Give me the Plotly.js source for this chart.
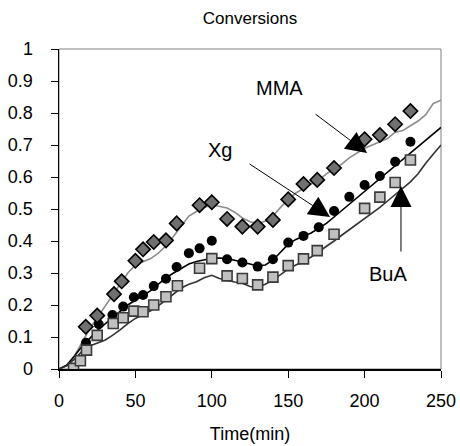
<!DOCTYPE html>
<html>
<head>
<meta charset="utf-8">
<script src="https://cdn.plot.ly/plotly-3.0.1.min.js"></script>
<style>html,body{margin:0;padding:0;background:#fff;}#chart{width:460px;height:446px;}</style>
</head>
<body>
<div id="chart"></div>
<script>
// Experimental points
var tMMA = [17.5, 25, 36, 41, 50, 55, 62, 70, 77, 92, 100, 110, 120, 130, 140, 150, 160, 169, 180, 200, 210, 220, 230];
var mmaExp = [0.132, 0.167, 0.234, 0.274, 0.338, 0.374, 0.397, 0.402, 0.455, 0.512, 0.521, 0.469, 0.445, 0.445, 0.466, 0.530, 0.578, 0.591, 0.628, 0.718, 0.731, 0.765, 0.806];

var tXg = [17.7, 26, 35, 42, 49, 55, 62, 70, 77, 85, 92, 100, 110, 120, 130, 140, 150, 160, 170, 180, 190, 200, 210, 220, 230];
var xgExp = [0.082, 0.140, 0.169, 0.195, 0.224, 0.231, 0.259, 0.282, 0.319, 0.362, 0.377, 0.401, 0.343, 0.333, 0.320, 0.343, 0.395, 0.416, 0.443, 0.494, 0.538, 0.575, 0.603, 0.648, 0.710];

var tBuA = [9.5, 14, 18, 25, 35.5, 42, 49, 55, 62, 70, 77.5, 92, 100, 110, 120, 130, 140, 150, 160, 169, 180, 200, 210, 220, 230];
var buaExp = [0.002, 0.026, 0.059, 0.105, 0.142, 0.160, 0.181, 0.179, 0.200, 0.226, 0.260, 0.315, 0.345, 0.291, 0.283, 0.263, 0.287, 0.323, 0.344, 0.370, 0.421, 0.502, 0.537, 0.583, 0.653];

// Model curves
var tModel = [0, 5, 10, 15, 20, 25, 30, 35, 40, 45, 50, 55, 60, 65, 70, 75, 80, 85, 90, 95, 100, 105, 110, 115, 120, 125, 130, 135, 140, 145, 150, 155, 160, 165, 170, 175, 180, 185, 190, 195, 200, 205, 210, 215, 220, 225, 230, 235, 240, 245, 250];
var mmaModel = [0, 0.010, 0.040, 0.085, 0.125, 0.160, 0.195, 0.230, 0.265, 0.300, 0.325, 0.335, 0.345, 0.362, 0.385, 0.415, 0.448, 0.478, 0.492, 0.505, 0.513, 0.508, 0.503, 0.490, 0.472, 0.460, 0.455, 0.462, 0.478, 0.505, 0.530, 0.550, 0.565, 0.578, 0.590, 0.610, 0.625, 0.640, 0.660, 0.675, 0.690, 0.700, 0.710, 0.720, 0.740, 0.745, 0.760, 0.775, 0.795, 0.830, 0.840];
var xgModel = [0, 0.012, 0.040, 0.070, 0.095, 0.120, 0.140, 0.160, 0.180, 0.200, 0.215, 0.230, 0.245, 0.265, 0.285, 0.300, 0.315, 0.328, 0.336, 0.342, 0.346, 0.347, 0.345, 0.340, 0.335, 0.328, 0.322, 0.325, 0.340, 0.365, 0.390, 0.405, 0.415, 0.425, 0.440, 0.455, 0.475, 0.495, 0.515, 0.535, 0.555, 0.575, 0.595, 0.615, 0.635, 0.655, 0.675, 0.695, 0.715, 0.735, 0.755];
var buaModel = [0, 0.010, 0.030, 0.055, 0.072, 0.080, 0.090, 0.105, 0.122, 0.142, 0.158, 0.170, 0.182, 0.197, 0.215, 0.235, 0.253, 0.265, 0.273, 0.285, 0.293, 0.283, 0.277, 0.272, 0.268, 0.258, 0.256, 0.265, 0.278, 0.295, 0.312, 0.325, 0.336, 0.350, 0.366, 0.383, 0.400, 0.418, 0.435, 0.452, 0.470, 0.487, 0.505, 0.525, 0.545, 0.565, 0.585, 0.610, 0.643, 0.672, 0.700];

var xTicks = [0, 50, 100, 150, 200, 250];
var yTicks = [0, 0.1, 0.2, 0.3, 0.4, 0.5, 0.6, 0.7, 0.8, 0.9, 1];
var yTickText = ['0', '0.1', '0.2', '0.3', '0.4', '0.5', '0.6', '0.7', '0.8', '0.9', '1'];

var FONT = 'Arial, "Liberation Sans", sans-serif';

var traces = [
  {x: tModel, y: mmaModel, type: 'scatter', mode: 'lines', line: {color: '#8c8c8c', width: 1.6}, hoverinfo: 'skip'},
  {x: tModel, y: xgModel, type: 'scatter', mode: 'lines', line: {color: '#000000', width: 1.6}, hoverinfo: 'skip'},
  {x: tModel, y: buaModel, type: 'scatter', mode: 'lines', line: {color: '#333333', width: 1.6}, hoverinfo: 'skip'},
  {x: tXg, y: xgExp, type: 'scatter', mode: 'markers', marker: {symbol: 'circle', size: 10, color: '#000000'}},
  {x: tBuA, y: buaExp, type: 'scatter', mode: 'markers', marker: {symbol: 'square', size: 10, color: '#c0c0c0', line: {color: '#3a3a3a', width: 1.6}}},
  {x: tMMA, y: mmaExp, type: 'scatter', mode: 'markers', marker: {symbol: 'diamond', size: 11, color: '#707070', line: {color: '#000000', width: 1.6}}}
];

var arrowCommon = {text: '', showarrow: true, arrowhead: 2, arrowsize: 4.2, arrowwidth: 1, arrowcolor: '#000', axref: 'x', ayref: 'y', xref: 'x', yref: 'y', standoff: 0};

var layout = {
  width: 460, height: 446,
  margin: {l: 59, r: 19, t: 49, b: 77},
  paper_bgcolor: '#ffffff', plot_bgcolor: '#ffffff',
  showlegend: false,
  font: {family: FONT, color: '#000', size: 18},
  title: {text: 'Conversions', font: {family: FONT, size: 17, color: '#000'}, x: 0.5, xref: 'paper', xanchor: 'center', y: 0.96, yanchor: 'middle'},
  xaxis: {
    range: [0, 250], tickvals: xTicks, ticktext: xTicks.map(String),
    ticks: 'outside', ticklen: 7, tickwidth: 1, tickcolor: '#000',
    showline: true, linecolor: '#000', linewidth: 1.5,
    showgrid: false, zeroline: false,
    tickfont: {family: FONT, size: 18, color: '#000'},
    ticklabelstandoff: 8,
    title: {text: 'Time(min)', font: {family: FONT, size: 18, color: '#000'}, standoff: 17}
  },
  yaxis: {
    range: [0, 1], tickvals: yTicks, ticktext: yTickText,
    ticks: 'outside', ticklen: 7, tickwidth: 1, tickcolor: '#000',
    showline: true, linecolor: '#000', linewidth: 1.5,
    showgrid: false, zeroline: false,
    tickfont: {family: FONT, size: 18, color: '#000'},
    ticklabelstandoff: 14
  },
  xaxis2: {overlaying: 'x', anchor: 'y', side: 'bottom', range: [0, 250], tickvals: xTicks, ticks: 'inside', ticklen: 7, tickwidth: 1, tickcolor: '#000', showticklabels: false, showline: false, showgrid: false, zeroline: false},
  yaxis2: {overlaying: 'y', anchor: 'x', side: 'left', range: [0, 1], tickvals: yTicks, ticks: 'inside', ticklen: 7, tickwidth: 1, tickcolor: '#000', showticklabels: false, showline: false, showgrid: false, zeroline: false},
  shapes: [
    {type: 'rect', xref: 'paper', yref: 'paper', x0: 0, x1: 1, y0: 0, y1: 1, line: {color: '#808080', width: 1}, layer: 'below'}
  ],
  annotations: [
    {text: 'MMA', x: 144.6, y: 0.878, xref: 'x', yref: 'y', showarrow: false, font: {family: FONT, size: 20, color: '#000'}},
    {text: 'Xg', x: 105.4, y: 0.684, xref: 'x', yref: 'y', showarrow: false, font: {family: FONT, size: 20, color: '#000'}},
    {text: 'BuA', x: 215.3, y: 0.297, xref: 'x', yref: 'y', showarrow: false, font: {family: FONT, size: 20, color: '#000'}},
    Object.assign({}, arrowCommon, {x: 201.6, y: 0.675, ax: 166.9, ay: 0.800}),
    Object.assign({}, arrowCommon, {x: 177.4, y: 0.475, ax: 123.7, ay: 0.644}),
    Object.assign({}, arrowCommon, {x: 223.8, y: 0.572, ax: 223.8, ay: 0.3625})
  ]
};

Plotly.newPlot('chart', traces, layout, {staticPlot: true, displayModeBar: false});
</script>
</body>
</html>
